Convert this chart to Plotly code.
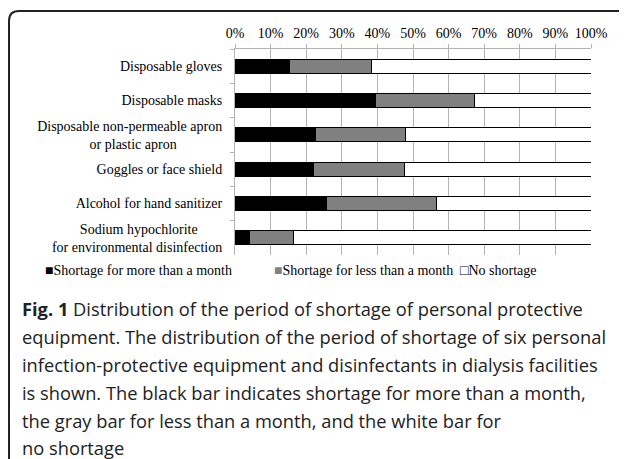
import plotly.graph_objects as go

categories = [
    "Disposable gloves",
    "Disposable masks",
    "Disposable non-permeable apron<br>or plastic apron",
    "Goggles or face shield",
    "Alcohol for hand sanitizer",
    "Sodium hypochlorite<br>for environmental disinfection",
]
more_than_month = [15.2, 39.6, 22.7, 22.0, 25.7, 4.2]
less_than_month = [23.2, 27.6, 25.3, 25.6, 30.9, 12.2]
no_shortage = [61.6, 32.8, 52.0, 52.4, 43.4, 83.6]
tick_vals = [0, 10, 20, 30, 40, 50, 60, 70, 80, 90, 100]
series_names = ["Shortage for more than a month", "Shortage for less than a month", "No shortage"]

# centre the second/first line of two-line labels
NB = "\u00a0"
labels = [
    categories[0],
    categories[1],
    "Disposable non-permeable apron<br>or plastic apron" + NB * 13,
    categories[3],
    categories[4],
    "Sodium hypochlorite" + NB * 7 + "<br>for environmental disinfection",
]

OFF = 8  # page body margin
W, H = 627 - OFF, 459 - OFF
L, R, T, B = 227, 36, 41, 204
pw, ph = W - L - R, H - T - B

def px(x):  # page x -> paper
    return (x - OFF - L) / pw

def py(y):  # page y -> paper
    return (H - B - (y - OFF)) / ph

serif = "Liberation Serif, Times New Roman, serif"
sans = "Open Sans, sans-serif"

fig = go.Figure()
colors = ["#000000", "#808080", "#ffffff"]
for name, vals, col in zip(series_names, [more_than_month, less_than_month, no_shortage], colors):
    fig.add_trace(go.Bar(
        y=labels, x=vals, name=name, orientation="h",
        marker=dict(color=col, line=dict(color="#000000", width=1)),
        showlegend=False,
    ))

fig.update_layout(
    width=W, height=H,
    margin=dict(l=L, r=R, t=T, b=B, autoexpand=False),
    barmode="stack", bargap=0.59,
    plot_bgcolor="white", paper_bgcolor="white",
    font=dict(family=serif, size=14, color="#000"),
)
fig.update_xaxes(
    side="top", range=[0, 100], tickvals=tick_vals,
    ticktext=[f"{v}%" for v in tick_vals],
    showgrid=True, gridcolor="#b3b3b3", gridwidth=1,
    showline=True, linecolor="#b3b3b3", linewidth=1,
    ticks="outside", ticklen=4, tickcolor="#b3b3b3",
    zeroline=False, tickfont=dict(family=serif, size=14),
)
fig.update_yaxes(
    autorange="reversed", tickson="boundaries",
    showline=True, linecolor="#b3b3b3", linewidth=1,
    ticks="outside", ticklen=4, tickcolor="#b3b3b3",
    showgrid=False, tickfont=dict(family=serif, size=14),
    ticklabelstandoff=9,
)

# legend drawn as text
leg = [
    ("<span style='color:#000'>■</span>" + series_names[0], 43),
    ("<span style='color:#808080'>■</span>" + series_names[1], 272),
    ("□" + series_names[2], 458),
]
for txt, x in leg:
    fig.add_annotation(text=txt, xref="paper", yref="paper", x=px(x), y=py(270),
                       xanchor="left", yanchor="middle", showarrow=False,
                       font=dict(family=serif, size=14, color="#000"))

caption = [
    "<b>Fig. 1</b> Distribution of the period of shortage of personal protective",
    "equipment. The distribution of the period of shortage of six personal",
    "infection-protective equipment and disinfectants in dialysis facilities",
    "is shown. The black bar indicates shortage for more than a month,",
    "the gray bar for less than a month, and the white bar for",
    "no shortage",
]
ys = [308, 336, 364, 392, 420, 447]
for txt, y in zip(caption, ys):
    fig.add_annotation(text=txt, xref="paper", yref="paper", x=px(20), y=py(y),
                       xanchor="left", yanchor="middle", showarrow=False,
                       font=dict(family=sans, size=18.3, color="#222"))

# rounded frame
x0, x1 = px(9), px(632)
yb, yt = py(475), py(11)
rx = 10 / pw
ry = 10 / ph
path = (f"M{x0},{yb} L{x0},{yt - ry} Q{x0},{yt} {x0 + rx},{yt} "
        f"L{x1 - rx},{yt} Q{x1},{yt} {x1},{yt - ry} L{x1},{yb}")
fig.add_shape(type="path", path=path, xref="paper", yref="paper",
              line=dict(color="#222", width=2))

fig.write_html("out.html")
